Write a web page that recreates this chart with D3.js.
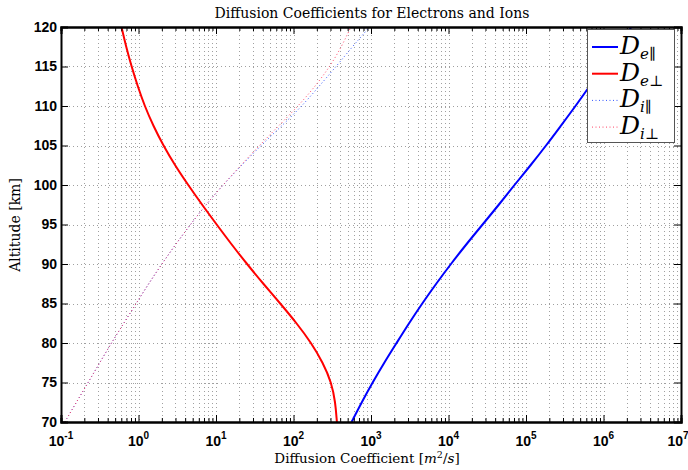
<!DOCTYPE html>
<html>
<head>
<meta charset="utf-8">
<script src="https://cdn.jsdelivr.net/npm/d3@7"></script>
<style>
body { margin: 0; background: #fff; }
.tick text { font-family: "Liberation Sans", Arial, sans-serif; font-weight: bold; }
</style>
</head>
<body>
<script>
// data (altitude in km, coefficients in m^2/s)
var altitude = [70, 72.5, 75, 77.5, 80, 82.5, 85, 87.5, 90, 92.5, 95, 97.5, 100, 102.5, 105, 107.5, 110, 112.5, 115, 117.5, 120];
var de_par = [562, 759, 1047, 1479, 2138, 3090, 4571, 6918, 10720, 16980, 27540, 44670, 70790, 114800, 182000, 281800, 436500, 660700, 1000000, 1514000, 2291000];
var de_perp = [363, 347, 309, 240, 170, 110, 67.6, 40.7, 25.1, 15.8, 10.2, 6.61, 4.37, 2.95, 2.09, 1.55, 1.20, 0.977, 0.813, 0.692, 0.603];
var di_par = [0.112, 0.158, 0.224, 0.316, 0.447, 0.646, 0.933, 1.35, 2.0, 3.02, 4.68, 7.41, 12.3, 21.4, 38.0, 70.8, 129, 214, 355, 575, 955];
var di_perp = [0.112, 0.158, 0.224, 0.316, 0.447, 0.646, 0.933, 1.35, 2.0, 3.02, 4.68, 7.41, 12.3, 20.9, 36.3, 64.6, 115, 191, 295, 417, 550];

var x_ticks = [1e-1, 1e0, 1e1, 1e2, 1e3, 1e4, 1e5, 1e6, 1e7];
var x_exponents = ["-1", "0", "1", "2", "3", "4", "5", "6", "7"];
var y_ticks = [70, 75, 80, 85, 90, 95, 100, 105, 110, 115, 120];

var series = [
    {name: "e", sym: "\u2225", values: de_par, color: "#0000ff", dash: null, width: 2},
    {name: "e", sym: "\u22a5", values: de_perp, color: "#ff0000", dash: null, width: 2},
    {name: "i", sym: "\u2225", values: di_par, color: "#3355ff", dash: "1,2.5", width: 1},
    {name: "i", sym: "\u22a5", values: di_perp, color: "#ff4466", dash: "1,2.5", width: 1}
];

var width = 688,
    height = 470;
var left = 61, right = 681, top_ = 27, bottom = 422;

var svg = d3.select("body").append("svg")
    .attr("width", width)
    .attr("height", height);

var x = d3.scaleLog().domain([1e-1, 1e7]).range([left, right]);
var y = d3.scaleLinear().domain([70, 120]).range([bottom, top_]);

var all_x = x.ticks();
var minor_x = all_x.filter(function(d){ return x_ticks.indexOf(d) < 0; });

// grid
var grid = svg.append("g")
    .attr("stroke", "#a0a0a0")
    .attr("stroke-width", 1)
    .attr("stroke-dasharray", "1,3");
grid.selectAll(".vx")
    .data(all_x.filter(function(d){ return d > 1e-1 && d < 1e7; }))
  .enter().append("line")
    .attr("x1", function(d){ return Math.round(x(d)) + 0.5; })
    .attr("x2", function(d){ return Math.round(x(d)) + 0.5; })
    .attr("y1", top_).attr("y2", bottom);
grid.selectAll(".hy")
    .data(y_ticks.slice(1, -1))
  .enter().append("line")
    .attr("y1", function(d){ return Math.round(y(d)) + 0.5; })
    .attr("y2", function(d){ return Math.round(y(d)) + 0.5; })
    .attr("x1", left).attr("x2", right);

// curves
var line = d3.line()
    .x(function(d){ return x(d[1]); })
    .y(function(d){ return y(d[0]); })
    .curve(d3.curveBasis);

svg.append("clipPath").attr("id", "clip")
  .append("rect").attr("x", left).attr("y", top_).attr("width", right - left).attr("height", bottom - top_);

var order = [2, 3, 0, 1];
order.forEach(function(k){
    var s = series[k];
    svg.append("path")
        .attr("clip-path", "url(#clip)")
        .attr("d", line(altitude.map(function(a, i){ return [a, s.values[i]]; })))
        .attr("fill", "none")
        .attr("stroke", s.color)
        .attr("stroke-width", s.width)
        .attr("stroke-dasharray", s.dash);
});

// axes with inward ticks on all four sides
function add_axis(gen, tx, ty, vals, size){
    var g = svg.append("g")
        .attr("transform", "translate(" + tx + "," + ty + ")")
        .call(gen.tickValues(vals).tickSize(size).tickFormat(""));
    g.selectAll("path").attr("stroke", "#000").attr("stroke-width", 2);
    g.selectAll(".tick line").attr("stroke", "#000").attr("stroke-width", 1);
    return g;
}
add_axis(d3.axisBottom(x), 0, bottom, minor_x, -4);
add_axis(d3.axisBottom(x), 0, bottom, x_ticks, -7);
add_axis(d3.axisTop(x), 0, top_, minor_x, -4);
add_axis(d3.axisTop(x), 0, top_, x_ticks, -7);
add_axis(d3.axisRight(y), right, 0, y_ticks, -7);
var yaxis = svg.append("g")
    .attr("transform", "translate(" + left + ",0)")
    .call(d3.axisLeft(y).tickValues(y_ticks).tickSize(-7).tickPadding(4));
yaxis.select("path").attr("stroke", "#000").attr("stroke-width", 2);
yaxis.selectAll(".tick line").attr("stroke", "#000");
yaxis.selectAll(".tick text").attr("font-size", 14).attr("fill", "#000")
    .attr("x", -4);

// x tick labels 10^n
var xl = svg.selectAll(".xlab")
    .data(x_ticks)
  .enter().append("text")
    .attr("x", function(d, i){ return x(d) - (i == x_ticks.length - 1 ? 3 : 0); })
    .attr("y", 446)
    .attr("text-anchor", "middle")
    .attr("font-family", "Liberation Sans, Arial, sans-serif")
    .attr("font-weight", "bold")
    .attr("font-size", 14);
xl.append("tspan").text("10");
xl.append("tspan").attr("font-size", 10).attr("dy", -7)
    .text(function(d, i){ return x_exponents[i]; });

// title and labels
svg.append("text")
    .attr("x", 372).attr("y", 18)
    .attr("text-anchor", "middle")
    .attr("font-family", "DejaVu Serif, serif")
    .attr("font-size", 14)
    .text("Diffusion Coefficients for Electrons and Ions");

var xlab = svg.append("text")
    .attr("x", 367).attr("y", 463)
    .attr("text-anchor", "middle")
    .attr("font-family", "DejaVu Serif, serif")
    .attr("font-size", 13.5);
xlab.append("tspan").text("Diffusion Coefficient [");
xlab.append("tspan").attr("font-style", "italic").text("m");
xlab.append("tspan").attr("font-size", 9.5).attr("dy", -5).text("2");
xlab.append("tspan").attr("dy", 5).text("/");
xlab.append("tspan").attr("font-style", "italic").text("s");
xlab.append("tspan").text("]");

svg.append("text")
    .attr("transform", "translate(20,225) rotate(-90)")
    .attr("text-anchor", "middle")
    .attr("font-family", "DejaVu Serif, serif")
    .attr("font-size", 14)
    .text("Altitude [km]");

// legend
var lg = svg.append("g");
lg.append("rect")
    .attr("x", 587.5).attr("y", 29.5)
    .attr("width", 87).attr("height", 113)
    .attr("fill", "#fff")
    .attr("stroke", "#555")
    .attr("stroke-width", 1);
series.forEach(function(s, i){
    var ly = 47 + i * 26.7;
    lg.append("line")
        .attr("x1", 592).attr("x2", 618)
        .attr("y1", ly).attr("y2", ly)
        .attr("stroke", s.color)
        .attr("stroke-width", s.dash ? 1 : 2)
        .attr("stroke-dasharray", s.dash);
    var t = lg.append("text")
        .attr("x", 620).attr("y", ly + 7)
        .attr("font-family", "DejaVu Serif, serif")
        .attr("font-style", "italic");
    t.append("tspan").attr("font-size", 25).text("D");
    t.append("tspan").attr("font-size", 15).attr("dy", 5).text(s.name);
    t.append("tspan").attr("font-size", 15).attr("font-style", "normal").text(s.sym);
});
</script>
</body>
</html>
